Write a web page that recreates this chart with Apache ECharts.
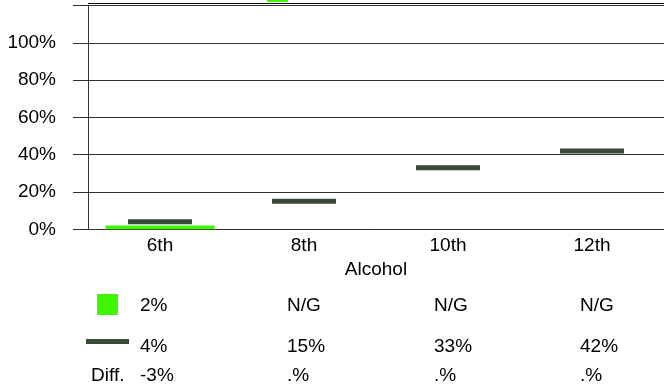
<!DOCTYPE html>
<html>
<head>
<meta charset="utf-8">
<script src="https://cdn.jsdelivr.net/npm/echarts@6/dist/echarts.min.js"></script>
<style>
  html, body { margin: 0; padding: 0; background: #fff; }
  #chart { width: 664px; height: 391px; }
</style>
</head>
<body>
<div id="chart"></div>
<script>
// Grades on the category axis
const grades = ['6th', '8th', '10th', '12th'];
// Local survey share (only given for 6th grade)
const localValues = [2, null, null, null];
// Comparison share per grade
const compareValues = [4, 15, 33, 42];
// Difference row as printed under the chart
const diffLabels = ['-3%', '.%', '.%', '.%'];
// Y axis tick values
const yTicks = [0, 20, 40, 60, 80, 100, 120];

const FONT = 'Arial, "Liberation Sans", sans-serif';
const FS = 19;
const GREEN = '#3ff700';
const DARK = '#384a38';
const LINE = '#333333';

const fmtPct = v => (v === null || v === undefined) ? 'N/G' : v + '%';

const chart = echarts.init(document.getElementById('chart'), null, { renderer: 'canvas' });

// Table under the plot: symbol column, then one column per grade
const colLeft = [140, 287, 434, 580];
const rowY = [305.5, 346.5, 376];
const tableText = [];
const rows = [
  localValues.map(fmtPct),
  compareValues.map(fmtPct),
  diffLabels
];
rows.forEach((row, r) => {
  row.forEach((txt, c) => {
    tableText.push({
      type: 'text', left: colLeft[c], top: rowY[r] - FS / 2,
      style: { text: txt, font: FS + 'px ' + FONT, fill: '#000' }
    });
  });
});

chart.setOption({
  animation: false,
  grid: { left: 88, right: 0, top: 5.5, bottom: 161.7 },
  xAxis: {
    type: 'category',
    data: grades,
    name: 'Alcohol',
    nameLocation: 'middle',
    nameGap: 31,
    nameTextStyle: { fontFamily: FONT, fontSize: FS, color: '#000' },
    axisLine: { show: true, lineStyle: { color: LINE, width: 1 } },
    axisTick: { show: false },
    axisLabel: { fontFamily: FONT, fontSize: FS, color: '#000', margin: 7 }
  },
  yAxis: {
    type: 'value',
    min: 0, max: 120, interval: 20,
    axisLine: { show: true, lineStyle: { color: LINE, width: 1 } },
    axisTick: { show: true, length: 15, lineStyle: { color: LINE, width: 1 } },
    splitLine: { show: true, lineStyle: { color: LINE, width: 1 } },
    axisLabel: {
      fontFamily: FONT, fontSize: FS, color: '#000', margin: 32,
      formatter: v => (yTicks.indexOf(v) >= 0 && v < 120) ? v + '%' : ''
    }
  },
  series: [
    {
      name: 'local',
      type: 'bar',
      data: localValues,
      barWidth: 109,
      barGap: '-100%',
      itemStyle: { color: GREEN },
      z: 2
    },
    {
      name: 'compare',
      type: 'scatter',
      data: compareValues,
      symbol: 'rect',
      symbolSize: [64, 5],
      itemStyle: { color: DARK, opacity: 1 },
      z: 3
    }
  ],
  graphic: [
    // frame line along the top of the plot
    { type: 'line', shape: { x1: 88, y1: 3.5, x2: 664, y2: 3.5 }, style: { stroke: '#111', lineWidth: 1 } },
    // green swatch peeking in at the top edge
    { type: 'rect', shape: { x: 267, y: 0, width: 21, height: 2 }, style: { fill: GREEN } },
    // row symbols
    { type: 'rect', shape: { x: 97, y: 294, width: 21, height: 21 }, style: { fill: GREEN } },
    { type: 'rect', shape: { x: 86, y: 339, width: 43, height: 5 }, style: { fill: DARK } },
    { type: 'text', left: 91, top: rowY[2] - FS / 2, style: { text: 'Diff.', font: FS + 'px ' + FONT, fill: '#000' } }
  ].concat(tableText)
});
</script>
</body>
</html>
